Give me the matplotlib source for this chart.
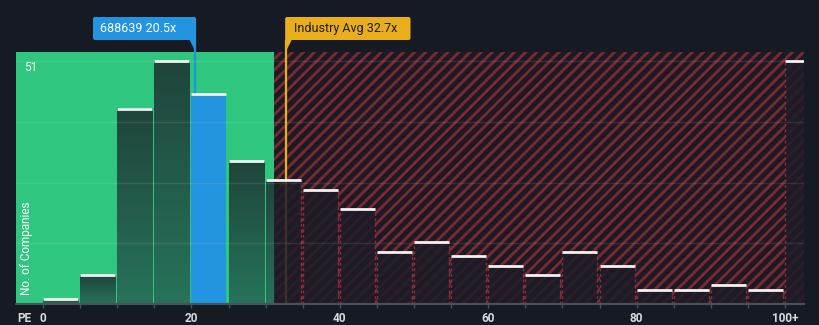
import numpy as np
import matplotlib
matplotlib.use("Agg")
import matplotlib.pyplot as plt
from matplotlib.patches import Rectangle, Polygon, FancyBboxPatch
from matplotlib.colors import LinearSegmentedColormap

plt.rcParams['font.family'] = ['Roboto', 'DejaVu Sans']
plt.rcParams['hatch.linewidth'] = 2.0

# PE histogram, bins of 5 (last bin is 100+)
bin_starts = np.arange(0, 105, 5)
counts = [1, 6, 41, 51, 44, 30, 26, 24, 20, 11, 13, 10, 8, 6, 11, 8, 3, 3, 4, 3, 51]

company_pe = 20.5
industry_pe = 32.7
fair_limit = 31.1
company_label = '688639 20.5x'
industry_label = 'Industry Avg 32.7x'
tick_values = [0, 20, 40, 60, 80, 100]
tick_labels = ['0', '20', '40', '60', '80', '100+']
y_top_label = '51'

# colours
BG = '#151a23'
GREEN = '#2fc77f'
RED_HATCH = '#7b2a33'
RED_BASE = '#1c1b25'
BLUE = '#2394df'
GOLD = '#e9ae1b'
TXT = '#d8dade'

fig = plt.figure(figsize=(8.2, 3.25), dpi=100)
fig.patch.set_facecolor(BG)

ax = fig.add_axes([16 / 820, 21 / 325, 788 / 820, 252 / 325])
x_lo, x_hi = -3.64, 102.56
y_hi = 52.9
ax.set_facecolor('none')

# background zones
ax.axvspan(x_lo, fair_limit, color=GREEN, lw=0, zorder=0)
ax.axvspan(fair_limit, x_hi, facecolor=RED_BASE, edgecolor=RED_HATCH,
           hatch='///', lw=0, zorder=0)

# industry average line sits behind the bars
ax.vlines(industry_pe, 0, 55.4, color=GOLD, lw=1.6, zorder=1, clip_on=False)

bar_w = 4.72
grad = LinearSegmentedColormap.from_list('g', ['#27735a', '#1f453c'])
grad_img = np.linspace(0, 1, 100).reshape(-1, 1)

for x0, c in zip(bin_starts, counts):
    x1 = x0 + bar_w
    if x0 <= company_pe < x0 + 5:
        ax.add_patch(Rectangle((x0, 0), bar_w, c, facecolor=BLUE, lw=0, zorder=3))
    else:
        if x0 < fair_limit:
            ax.imshow(grad_img, extent=[x0, min(x1, fair_limit), 0, c], origin='lower',
                      cmap=grad, aspect='auto', zorder=3, interpolation='bilinear')
        if x1 > fair_limit:
            xs = max(x0, fair_limit)
            ax.add_patch(Rectangle((xs, 0), x1 - xs, c, facecolor='#1d1c27', alpha=0.85,
                                   lw=0, zorder=3))
            # dashed red side edges
            ax.vlines([xs, x1] if x0 >= fair_limit else [x1], 0, c, color='#8e2d38',
                      lw=1, linestyles=(0, (2, 2)), zorder=3.5)
    ax.hlines(c, x0, x1, color='#f2f2f2', lw=2, zorder=5)

# faint grid
ax.hlines([12.75, 25.5, 38.25, 51], x_lo, x_hi, color='white', alpha=0.09, lw=1, zorder=6)

# company line to bar top
comp_count = counts[int(company_pe // 5)]
ax.vlines(company_pe, comp_count, 55.4, color=BLUE, lw=1.6, zorder=4, clip_on=False)

ax.set_xlim(x_lo, x_hi)
ax.set_ylim(0, y_hi)
for s in ['top', 'right', 'left']:
    ax.spines[s].set_visible(False)
ax.spines['bottom'].set_color('#4b505a')
ax.spines['bottom'].set_linewidth(1.5)
ax.spines['bottom'].set_zorder(7)
ax.set_yticks([])
ax.set_xticks(bin_starts, minor=True)
ax.set_xticks(tick_values)
ax.set_xticklabels(tick_labels)
ax.tick_params(axis='x', which='both', length=3, color='#4b505a', width=1,
               pad=3, labelsize=8.5, labelcolor=TXT)
for lab in ax.get_xticklabels():
    lab.set_fontweight('bold')

ax.text(-2.6, 51 - 1.4, y_top_label, color='white', fontsize=8.5, ha='left', va='center',
        zorder=8)
ax.text(-2.2, 1.9, 'No. of Companies', rotation=90, color='white', fontsize=8.5,
        ha='center', va='bottom', zorder=8)

# overlay in pixel coordinates for callout boxes
ov = fig.add_axes([0, 0, 1, 1])
ov.set_xlim(0, 820)
ov.set_ylim(325, 0)
ov.axis('off')
ov.patch.set_alpha(0)

ov.text(24, 319, 'PE', color=TXT, fontsize=8.5, fontweight='bold', ha='center', va='center')

cx = ax.transData.transform((company_pe, 0))[0]
ix = ax.transData.transform((industry_pe, 0))[0]

ov.add_patch(FancyBboxPatch((93, 17), cx + 1 - 93, 23, boxstyle='round,pad=0,rounding_size=2',
                            facecolor=BLUE, lw=0))
ov.add_patch(Polygon([[cx - 6, 39], [cx + 1, 39], [cx + 0.5, 52]], facecolor=BLUE, lw=0))
ov.text(100, 28.5, company_label, color='white', fontsize=9, ha='left', va='center')

ov.add_patch(FancyBboxPatch((ix - 0.5, 17), 411 - ix, 23, boxstyle='round,pad=0,rounding_size=2',
                            facecolor=GOLD, lw=0))
ov.add_patch(Polygon([[ix - 0.5, 39], [ix + 6.5, 39], [ix, 52]], facecolor=GOLD, lw=0))
ov.text(ix + 8, 28.5, industry_label, color='#1b1b1b', fontsize=9, ha='left', va='center')

fig.savefig('out.png', dpi=100, facecolor=BG)
